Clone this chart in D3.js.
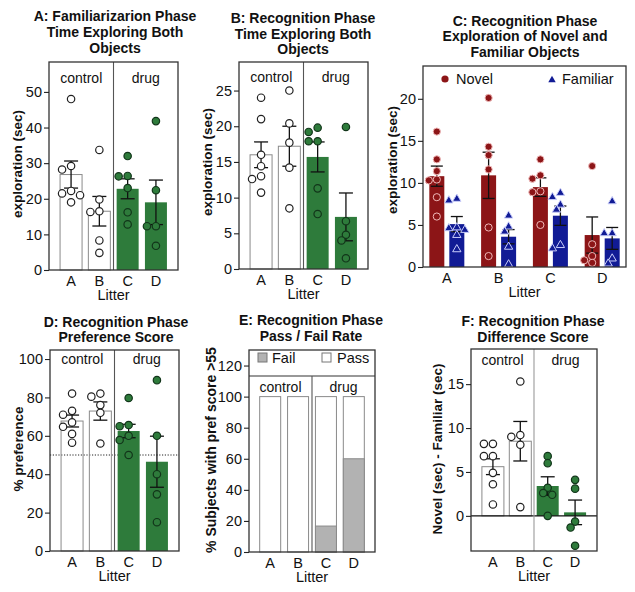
<!DOCTYPE html>
<html><head><meta charset="utf-8">
<script src="https://cdn.jsdelivr.net/npm/d3@7"></script>
<style>body{margin:0;background:#fff} svg{font-family:"Liberation Sans",Arial,Helvetica,sans-serif}</style>
</head><body><svg id="c" width="635" height="592"></svg>
<script>
// ---------- data ----------
const litters = ["A","B","C","D"];
const groupNames = ["control","drug"];
// A: familiarization, total exploration (sec)
const famMean = [26.8, 16.5, 22.8, 19.0];
const famSem  = [3.8, 4.15, 2.8, 6.25];
const famPts  = [[48, 29.2, 28.2, 22.2, 21.5, 21.0, 19.0],[33.7, 19.8, 16.5, 16.3, 8.3, 4.8],[32, 26.4, 26.3, 23, 16.2, 12.8],[41.8, 22.4, 12.3, 12.3, 6.8]];
// B: recognition, total exploration (sec)
const recMean = [16.0, 17.2, 15.7, 7.3];
const recSem  = [1.8, 2.8, 2.1, 3.35];
const recPts  = [[24, 21, 16, 14.4, 13, 12.6, 10.7],[25, 20.4, 17.7, 14.2, 8.5],[19.8, 19.2, 17.9, 17.9, 11.3, 7.7],[19.9, 6.7, 4.8, 4.0, 1.5]];
// C: novel vs familiar object (sec)
const objSeries = ["Novel","Familiar"];
const novelMean = [10.8, 10.9, 9.5, 3.8];
const novelSem  = [1.2, 2.75, 1.1, 2.15];
const novelPts  = [[16.1, 12.8, 11.4, 10.4, 10.3, 8.3, 6.0],[20.1, 14.3, 13.3, 11.6, 4.7, 1.3],[12.8, 10.9, 10.5, 9.0, 8.9, 5.0],[12.0, 2.7, 1.3, 0.8, 0.5]];
const familMean = [5.1, 3.6, 6.1, 3.4];
const familSem  = [0.9, 0.85, 1.15, 1.3];
const familPts  = [[8.1, 7.9, 4.7, 4.6, 4.4, 3.8, 2.1],[6.1, 4.8, 4.2, 2.4, 0.3],[8.8, 8.3, 7.4, 6.8, 2.6, 2.2],[7.8, 4.0, 4.0, 1.0, 0.4]];
// D: preference score (%)
const prefMean = [67.7, 72.9, 62.5, 46.5];
const prefSem  = [3.1, 4.75, 3.5, 13.3];
const prefPts  = [[82, 73, 71, 67, 64.7, 61, 56.4],[82, 80.4, 76, 72, 56],[79.7, 65.6, 65, 60, 57.8, 50],[89, 60, 40, 29.5, 15]];
const chanceLevel = 50;
// E: pass / fail (%)
const failPct = [0, 0, 16.7, 60];
const passTotal = [100, 100, 100, 100];
// F: difference score (sec)
const diffMean = [5.6, 8.5, 3.4, 0.4];
const diffSem  = [0.9, 2.25, 1.05, 1.4];
const diffPts  = [[8.2, 8.2, 6.8, 6.8, 4.9, 3.6, 1.3],[15.3, 9.2, 9.0, 8.1, 1.0],[6.8, 6.0, 3.2, 2.6, 2.4, 0],[4.1, 3.1, -0.65, -1.33, -3.4]];

// ---------- style ----------
const GREEN = "#2e7b3b", GREEN_EDGE = "#12351a", RED = "#8c1517", BLUE = "#111b95", FAILG = "#b2b2b2";
const FRAME = "#333";
const TICK_FS = 14.5;
const svg = d3.select("#c");

function swarm(vals, y, cx, r, step) {
  const placed = [];
  vals.slice().sort((a, b) => b - a).forEach(v => {
    const py = y(v);
    for (let k = 0; k < 30; k++) {
      const off = k === 0 ? 0 : (k % 2 ? -1 : 1) * Math.ceil(k / 2) * step;
      const px = cx + off;
      if (placed.every(p => Math.hypot(p.x - px, p.y - py) >= 2 * r - 0.8)) { placed.push({x: px, y: py, v}); break; }
    }
  });
  return placed;
}

function title(lines, cx, baselines) {
  lines.forEach((t, i) => svg.append("text").attr("x", cx).attr("y", baselines[i])
    .attr("text-anchor", "middle").attr("font-size", 14).attr("font-weight", "bold").attr("fill", "#111").text(t));
}
function ylabel(t, x, y, fs) {
  svg.append("text").attr("transform", `translate(${x},${y}) rotate(-90)`).attr("dy", "0.35em")
    .attr("text-anchor", "middle").attr("font-size", fs || 13.5).attr("font-weight", "bold").attr("fill", "#111").text(t);
}
function yaxis(g, y, x0, ticks) {
  const ax = g.append("g").attr("transform", `translate(${x0},0)`)
    .call(d3.axisLeft(y).tickValues(ticks).tickSize(5).tickPadding(2).tickFormat(d3.format("d")));
  ax.select(".domain").remove();
  ax.selectAll("line").attr("stroke", "#222").attr("stroke-width", 1.1);
  ax.selectAll("text").attr("font-size", TICK_FS).attr("fill", "#111").attr("font-family", "Liberation Sans, Arial, sans-serif");
}
function xlabels(g, xs, yBot, cxMid) {
  litters.forEach(l => g.append("text").attr("x", xs(l)).attr("y", yBot + 16).attr("text-anchor", "middle")
    .attr("font-size", TICK_FS).attr("fill", "#111").text(l));
  g.append("text").attr("x", cxMid).attr("y", yBot + 30).attr("text-anchor", "middle")
    .attr("font-size", 14.5).attr("fill", "#111").text("Litter");
}
function errbar(g, x, y, m, s, hw) {
  g.append("line").attr("x1", x).attr("x2", x).attr("y1", y(m - s)).attr("y2", y(m + s)).attr("stroke", "#111").attr("stroke-width", 1.3);
  [m - s, m + s].forEach(v => g.append("line").attr("x1", x - hw).attr("x2", x + hw).attr("y1", y(v)).attr("y2", y(v))
    .attr("stroke", "#111").attr("stroke-width", 1.3));
}
function groupLabels(g, x0, xd, x1, yb) {
  g.append("text").attr("x", (x0 + xd) / 2).attr("y", yb).attr("text-anchor", "middle").attr("font-size", 14).attr("fill", "#111").text(groupNames[0]);
  g.append("text").attr("x", (xd + x1) / 2).attr("y", yb).attr("text-anchor", "middle").attr("font-size", 14).attr("fill", "#111").text(groupNames[1]);
}

// generic control/drug bar panel
function barPanel(o) {
  const g = svg.append("g");
  const x = d3.scalePoint().domain(litters).range([o.x0, o.x1]).padding(o.pad);
  const y = d3.scaleLinear().domain(o.domain).range([o.yBot, o.yTop]);
  const xd = (x("B") + x("C")) / 2;
  const bw = 22;
  if (o.refLine !== undefined) {
    g.append("line").attr("x1", o.x0).attr("x2", o.x1).attr("y1", y(o.refLine)).attr("y2", y(o.refLine))
      .attr("stroke", "#222").attr("stroke-width", 1).attr("stroke-dasharray", "1.2,1.6");
  }
  litters.forEach((l, i) => {
    const m = o.means[i], drug = i >= 2;
    g.append("rect").attr("x", x(l) - bw / 2).attr("width", bw)
      .attr("y", y(Math.max(0, m))).attr("height", Math.abs(y(m) - y(0)))
      .attr("fill", drug ? GREEN : "none").attr("stroke", drug ? "none" : "#8a8a8a").attr("stroke-width", 1);
  });
  if (o.zeroLine) g.append("line").attr("x1", o.x0).attr("x2", o.x1).attr("y1", y(0)).attr("y2", y(0)).attr("stroke", "#111").attr("stroke-width", 1.3);
  g.append("line").attr("x1", xd).attr("x2", xd).attr("y1", o.yTop).attr("y2", o.yBot)
    .attr("stroke", o.divColor || "#555").attr("stroke-width", 1.1);
  litters.forEach((l, i) => errbar(g, x(l), y, o.means[i], o.sems[i], 7));
  litters.forEach((l, i) => {
    const drug = i >= 2;
    swarm(o.pts[i], y, x(l), 3.7, 4.5).forEach(p => g.append("circle").attr("cx", p.x).attr("cy", p.y).attr("r", 3.7)
      .attr("fill", drug ? GREEN : "#fff").attr("stroke", drug ? GREEN_EDGE : "#222").attr("stroke-width", 1.2));
  });
  g.append("rect").attr("x", o.x0).attr("y", o.yTop).attr("width", o.x1 - o.x0).attr("height", o.yBot - o.yTop)
    .attr("fill", "none").attr("stroke", FRAME).attr("stroke-width", 1.3);
  yaxis(g, y, o.x0, o.ticks);
  xlabels(g, x, o.yBot, (o.x0 + o.x1) / 2);
  groupLabels(g, o.x0, xd, o.x1, o.groupY);
  title(o.title, o.titleX, o.titleY);
  ylabel(o.ylabel, o.ylx, o.yly);
}

// Panel A
barPanel({x0: 49, x1: 178, yTop: 62, yBot: 270, pad: 0.78, domain: [0, 58.4], ticks: [0,10,20,30,40,50],
  means: famMean, sems: famSem, pts: famPts, groupY: 83,
  title: ["A: Familiarizarion Phase", "Time Exploring Both", "Objects"], titleX: 115, titleY: [21, 37, 53],
  ylabel: "exploration (sec)", ylx: 17, yly: 164});
// Panel B
barPanel({x0: 239, x1: 368, yTop: 62, yBot: 269, pad: 0.78, domain: [0, 29], ticks: [0,5,10,15,20,25],
  means: recMean, sems: recSem, pts: recPts, groupY: 82,
  title: ["B: Recognition Phase", "Time Exploring Both", "Objects"], titleX: 303, titleY: [22.5, 38.5, 54],
  ylabel: "exploration (sec)", ylx: 207, yly: 162});
// Panel D
barPanel({x0: 50, x1: 179, yTop: 350, yBot: 551, pad: 0.78, domain: [0, 104.7], ticks: [0,20,40,60,80,100],
  means: prefMean, sems: prefSem, pts: prefPts, groupY: 364, refLine: chanceLevel,
  title: ["D: Recognition Phase", "Preference Score"], titleX: 116, titleY: [327, 342],
  ylabel: "% preference", ylx: 18, yly: 449});
// Panel F
barPanel({x0: 471, x1: 597, yTop: 349, yBot: 551, pad: 0.8, domain: [-4, 19], ticks: [0,5,10,15],
  means: diffMean, sems: diffSem, pts: diffPts, groupY: 365, zeroLine: true, divColor: "#9a9a9a",
  title: ["F: Recognition Phase", "Difference Score"], titleX: 533, titleY: [326, 342],
  ylabel: "Novel (sec) - Familiar (sec)", ylx: 437, yly: 449});

// Panel C
(function () {
  const g = svg.append("g");
  const x0 = 423, x1 = 626, yTop = 66, yBot = 267;
  const x = d3.scalePoint().domain(litters).range([x0, x1]).padding(0.46);
  const sub = d3.scaleBand().domain(objSeries).range([-17.5, 17.5]).paddingInner(0.25);
  const y = d3.scaleLinear().domain([0, 23.9]).range([yBot, yTop]);
  const series = [
    {name: "Novel", mean: novelMean, sem: novelSem, pts: novelPts, color: RED, edge: "#f0b9b9"},
    {name: "Familiar", mean: familMean, sem: familSem, pts: familPts, color: BLUE, edge: "#c9cdfa"}];
  series.forEach(s => litters.forEach((l, i) => {
    g.append("rect").attr("x", x(l) + sub(s.name)).attr("width", sub.bandwidth())
      .attr("y", y(s.mean[i])).attr("height", y(0) - y(s.mean[i])).attr("fill", s.color);
  }));
  series.forEach(s => litters.forEach((l, i) => errbar(g, x(l) + sub(s.name) + sub.bandwidth() / 2, y, s.mean[i], s.sem[i], 6)));
  const tri = d3.symbol().type(d3.symbolTriangle).size(30);
  series.forEach(s => litters.forEach((l, i) => {
    const cx = x(l) + sub(s.name) + sub.bandwidth() / 2;
    swarm(s.pts[i], y, cx, 3.4, 4).forEach(p => {
      if (s.name === "Novel") g.append("circle").attr("cx", p.x).attr("cy", p.y).attr("r", 3.6)
        .attr("fill", s.color).attr("stroke", s.edge).attr("stroke-width", 1);
      else g.append("path").attr("d", tri).attr("transform", `translate(${p.x},${p.y})`)
        .attr("fill", s.color).attr("stroke", s.edge).attr("stroke-width", 1);
    });
  }));
  g.append("rect").attr("x", x0).attr("y", yTop).attr("width", x1 - x0).attr("height", yBot - yTop)
    .attr("fill", "none").attr("stroke", FRAME).attr("stroke-width", 1.3);
  // legend
  g.append("circle").attr("cx", 445).attr("cy", 79).attr("r", 3.6).attr("fill", RED);
  g.append("text").attr("x", 456).attr("y", 84).attr("font-size", 14.5).attr("fill", "#111").text(objSeries[0]);
  g.append("path").attr("d", d3.symbol().type(d3.symbolTriangle).size(24)).attr("transform", "translate(552,80)").attr("fill", BLUE);
  g.append("text").attr("x", 562).attr("y", 84).attr("font-size", 14.5).attr("fill", "#111").text(objSeries[1]);
  yaxis(g, y, x0, [0, 5, 10, 15, 20]);
  xlabels(g, x, yBot, (x0 + x1) / 2);
  title(["C: Recognition Phase", "Exploration of Novel and", "Familiar Objects"], 525, [26, 41, 57]);
  ylabel("exploration (sec)", 392, 160);
})();

// Panel E
(function () {
  const g = svg.append("g");
  const x0 = 249, x1 = 375, yTop = 350, yBot = 552;
  const x = d3.scalePoint().domain(litters).range([x0, x1]).padding(0.76);
  const y = d3.scaleLinear().domain([0, 130]).range([yBot, yTop]);
  const bw = 21;
  litters.forEach((l, i) => {
    g.append("rect").attr("x", x(l) - bw / 2).attr("width", bw).attr("y", y(passTotal[i])).attr("height", y(0) - y(passTotal[i]))
      .attr("fill", "#fff").attr("stroke", "#8a8a8a").attr("stroke-width", 1);
    if (failPct[i] > 0) g.append("rect").attr("x", x(l) - bw / 2).attr("width", bw).attr("y", y(failPct[i])).attr("height", y(0) - y(failPct[i]))
      .attr("fill", FAILG).attr("stroke", "#8a8a8a").attr("stroke-width", 1);
  });
  const legendLine = y(113.3);
  const xd = (x("B") + x("C")) / 2;
  g.append("line").attr("x1", x0).attr("x2", x1).attr("y1", legendLine).attr("y2", legendLine).attr("stroke", FRAME).attr("stroke-width", 1.1);
  g.append("line").attr("x1", xd).attr("x2", xd).attr("y1", legendLine).attr("y2", yBot).attr("stroke", "#555").attr("stroke-width", 1.1);
  g.append("rect").attr("x", x0).attr("y", yTop).attr("width", x1 - x0).attr("height", yBot - yTop)
    .attr("fill", "none").attr("stroke", FRAME).attr("stroke-width", 1.3);
  // legend
  g.append("rect").attr("x", 258).attr("y", 353).attr("width", 9).attr("height", 9).attr("fill", FAILG).attr("stroke", "#777");
  g.append("text").attr("x", 272).attr("y", 363).attr("font-size", 14.5).attr("fill", "#111").text("Fail");
  g.append("rect").attr("x", 322).attr("y", 353).attr("width", 9).attr("height", 9).attr("fill", "#fff").attr("stroke", "#777");
  g.append("text").attr("x", 337).attr("y", 363).attr("font-size", 14.5).attr("fill", "#111").text("Pass");
  yaxis(g, y, x0, [0, 20, 40, 60, 80, 100, 120]);
  xlabels(g, x, yBot, (x0 + x1) / 2);
  groupLabels(g, x0, xd, x1, 392);
  title(["E: Recognition Phase", "Pass / Fail Rate"], 311, [325, 341]);
  ylabel("% Subjects with pref score >55", 211, 450, 14);
})();
</script></body></html>
